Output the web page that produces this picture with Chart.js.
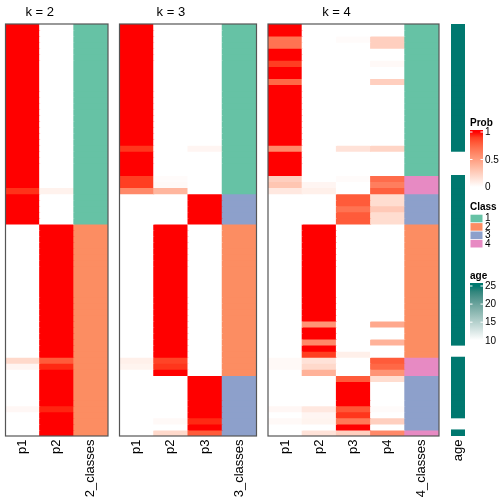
<!DOCTYPE html>
<html>
<head>
<meta charset="utf-8">
<script src="https://cdn.jsdelivr.net/npm/chart.js@4/dist/chart.umd.min.js"></script>
<style>
  html, body { margin: 0; padding: 0; background: #fff; }
  #wrap { position: relative; width: 504px; height: 504px; }
  #wrap canvas { position: absolute; left: 0; top: 0; }
</style>
</head>
<body>
<div id="wrap">
  <canvas id="k2" width="504" height="504"></canvas>
  <canvas id="k3" width="504" height="504"></canvas>
  <canvas id="k4" width="504" height="504"></canvas>
  <canvas id="age" width="504" height="504"></canvas>
</div>
<script>
// ===== data: one value per sample (row), top to bottom =====
const k2P1 = [1,1,1,1,1,1,1,1,1,1,1,1,1,1,1,1,1,
              1,1,1,1,1,1,1,1,1,1,0.93,1,1,1,1,1,0,
              0,0,0,0,0,0,0,0,0,0,0,0,0,0,0,0,0,
              0,0,0,0,0.2,0.05,0,0,0,0,0,0,0.04,0,0,0,0];
const k2P2 = [0,0,0,0,0,0,0,0,0,0,0,0,0,0,0,0,0,
              0,0,0,0,0,0,0,0,0,0,0.07,0,0,0,0,0,1,
              1,1,1,1,1,1,1,1,1,1,1,1,1,1,1,1,1,
              1,1,1,1,0.8,0.95,1,1,1,1,1,1,0.96,1,1,1,1];
const k2Class = [1,1,1,1,1,1,1,1,1,1,1,1,1,1,1,1,1,
                 1,1,1,1,1,1,1,1,1,1,1,1,1,1,1,1,2,
                 2,2,2,2,2,2,2,2,2,2,2,2,2,2,2,2,2,
                 2,2,2,2,2,2,2,2,2,2,2,2,2,2,2,2,2];

const k3P1 = [1,1,1,1,1,1,1,1,1,1,1,1,1,1,1,1,1,
              1,1,1,0.92,1,1,1,1,0.9,0.9,0.6,0,0,0,0,0,0,
              0,0,0,0,0,0,0,0,0,0,0,0,0,0,0,0,0,
              0,0,0,0,0.08,0.06,0,0,0,0,0,0,0,0,0,0,0];
const k3P2 = [0,0,0,0,0,0,0,0,0,0,0,0,0,0,0,0,0,
              0,0,0,0,0,0,0,0,0.02,0.03,0.38,0,0,0,0,0,1,
              1,1,1,1,1,1,1,1,1,1,1,1,1,1,1,1,1,
              1,1,1,1,0.88,0.92,1,0,0,0,0,0,0,0,0.03,0,0.2];
const k3P3 = [0,0,0,0,0,0,0,0,0,0,0,0,0,0,0,0,0,
              0,0,0,0.05,0,0,0,0,0,0,0,1,1,1,1,1,0,
              0,0,0,0,0,0,0,0,0,0,0,0,0,0,0,0,0,
              0,0,0,0,0,0,0,1,1,1,1,1,1,1,0.95,1,0.8];
const k3Class = [1,1,1,1,1,1,1,1,1,1,1,1,1,1,1,1,1,
                 1,1,1,1,1,1,1,1,1,1,1,3,3,3,3,3,2,
                 2,2,2,2,2,2,2,2,2,2,2,2,2,2,2,2,2,
                 2,2,2,2,2,2,2,3,3,3,3,3,3,3,3,3,3];

const k4P1 = [1,1,0.7,0.7,1,1,0.9,1,1,0.75,1,1,1,1,1,1,1,
              1,1,1,0.6,1,1,1,1,0.25,0.3,0.12,0,0,0,0,0,0,
              0,0,0,0,0,0,0,0,0,0,0,0,0,0,0,0,0,
              0,0,0,0,0.03,0.03,0,0,0,0,0,0,0.04,0,0.03,0,0];
const k4P2 = [0,0,0,0,0,0,0,0,0,0,0,0,0,0,0,0,0,
              0,0,0,0,0,0,0,0,0,0.05,0.08,0,0,0,0,0,1,
              1,1,1,1,1,1,1,1,1,1,1,1,1,1,1,0.55,1,
              1,0.6,1,0.9,0.15,0.2,0.4,0,0,0,0,0,0.12,0.05,0.06,0,0.15];
const k4P3 = [0,0,0.02,0,0,0,0,0,0,0,0,0,0,0,0,0,0,
              0,0,0,0.15,0,0,0,0,0.02,0,0,0.8,0.8,0.7,0.8,0.8,0,
              0,0,0,0,0,0,0,0,0,0,0,0,0,0,0,0,0,
              0,0,0,0.08,0,0,0,0.8,1,1,1,1,0.82,0.92,0.68,1,0.25];
const k4P4 = [0,0,0.25,0.25,0,0,0.03,0,0,0.25,0,0,0,0,0,0,0,
              0,0,0,0.22,0,0,0,0,0.73,0.65,0.78,0.18,0.18,0.28,0.18,0.18,0,
              0,0,0,0,0,0,0,0,0,0,0,0,0,0,0,0.45,0,
              0,0.4,0,0,0.8,0.75,0.55,0.18,0,0,0,0,0.02,0,0.25,0,0.6];
const k4Class = [1,1,1,1,1,1,1,1,1,1,1,1,1,1,1,1,1,
                 1,1,1,1,1,1,1,1,4,4,4,3,3,3,3,3,2,
                 2,2,2,2,2,2,2,2,2,2,2,2,2,2,2,2,2,
                 2,2,2,2,4,4,4,3,3,3,3,3,3,3,3,3,4];

const age = [25,25,25,25,25,25,25,25,25,25,25,25,25,25,25,25,25,
             25,25,25,25,null,null,null,null,25,25,25,25,25,25,25,25,25,
             25,25,25,25,25,25,25,25,25,25,25,25,25,25,25,25,25,
             25,25,null,null,25,25,25,25,25,25,25,25,25,25,null,null,25];

const classNames = ['1', '2', '3', '4'];
const classColors = ['#66C2A5', '#FC8D62', '#8DA0CB', '#E78AC3'];
const probTicks = [0, 0.5, 1];
const ageTicks = [10, 15, 20, 25];

// ===== colour ramps, interpolated in LAB like colorRamp2 =====
function hexToRgb(h) { return [1, 3, 5].map(i => parseInt(h.substr(i, 2), 16)); }
function rgbToLab(c) {
    const lin = v => { v /= 255; return v <= 0.04045 ? v / 12.92 : Math.pow((v + 0.055) / 1.055, 2.4); };
    const R = lin(c[0]), G = lin(c[1]), B = lin(c[2]);
    const X = (R * 0.4124 + G * 0.3576 + B * 0.1805) / 0.95047;
    const Y = R * 0.2126 + G * 0.7152 + B * 0.0722;
    const Z = (R * 0.0193 + G * 0.1192 + B * 0.9505) / 1.08883;
    const f = t => t > 0.008856 ? Math.cbrt(t) : 7.787 * t + 16 / 116;
    return [116 * f(Y) - 16, 500 * (f(X) - f(Y)), 200 * (f(Y) - f(Z))];
}
function labToCss(l) {
    const fy = (l[0] + 16) / 116, fx = fy + l[1] / 500, fz = fy - l[2] / 200;
    const fi = t => { const t3 = t * t * t; return t3 > 0.008856 ? t3 : (t - 16 / 116) / 7.787; };
    const X = fi(fx) * 0.95047, Y = fi(fy), Z = fi(fz) * 1.08883;
    const g = v => {
        v = Math.min(1, Math.max(0, v));
        return Math.round(255 * (v <= 0.0031308 ? 12.92 * v : 1.055 * Math.pow(v, 1 / 2.4) - 0.055));
    };
    return 'rgb(' + g(3.2406 * X - 1.5372 * Y - 0.4986 * Z) + ',' +
        g(-0.9689 * X + 1.8758 * Y + 0.0415 * Z) + ',' +
        g(0.0557 * X - 0.2040 * Y + 1.0570 * Z) + ')';
}
function ramp(lo, hi, c0, c1) {
    const a = rgbToLab(hexToRgb(c0)), b = rgbToLab(hexToRgb(c1));
    return v => {
        if (v == null) return 'rgba(0,0,0,0)';
        const t = Math.min(1, Math.max(0, (v - lo) / (hi - lo)));
        return labToCss(a.map((x, i) => x + (b[i] - x) * t));
    };
}
const probColor = ramp(0, 1, '#FFFFFF', '#FF0000');
const ageColor = ramp(10, 25, '#FFFFFF', '#00786F');
const classColor = v => classColors[v - 1];

const FONT = '"Liberation Sans", Arial, Helvetica, sans-serif';

// ===== legend on the right =====
function drawLegend(ctx) {
    ctx.fillStyle = '#000';
    ctx.textAlign = 'left';

    // Prob
    ctx.font = 'bold 10px ' + FONT;
    ctx.textBaseline = 'alphabetic';
    ctx.fillText('Prob', 470, 125.5);
    const p0 = 187, p1 = 132;
    let g = ctx.createLinearGradient(0, p0, 0, p1);
    for (let i = 0; i <= 10; i++) g.addColorStop(i / 10, probColor(i / 10));
    ctx.fillStyle = g;
    ctx.fillRect(470, 130, 13, 58);
    ctx.font = '10px ' + FONT;
    ctx.textBaseline = 'middle';
    probTicks.forEach(v => {
        const y = p0 + (p1 - p0) * v;
        ctx.strokeStyle = '#fff'; ctx.lineWidth = 1;
        ctx.beginPath();
        ctx.moveTo(470, y); ctx.lineTo(472.5, y);
        ctx.moveTo(480.5, y); ctx.lineTo(483, y);
        ctx.stroke();
        ctx.fillStyle = '#000';
        ctx.fillText(String(v), 485, y + 0.5);
    });

    // Class
    ctx.font = 'bold 10px ' + FONT;
    ctx.textBaseline = 'alphabetic';
    ctx.fillText('Class', 470, 209.5);
    ctx.font = '10px ' + FONT;
    ctx.textBaseline = 'middle';
    classNames.forEach((name, i) => {
        const y = 214.3 + i * 8.4;
        ctx.fillStyle = classColors[i];
        ctx.fillRect(470.5, y + 0.4, 12, 7.6);
        ctx.fillStyle = '#000';
        ctx.fillText(name, 485, y + 4.4);
    });

    // age
    ctx.font = 'bold 10px ' + FONT;
    ctx.textBaseline = 'alphabetic';
    ctx.fillText('age', 470, 278.5);
    const a0 = 340.3, a1 = 286;
    g = ctx.createLinearGradient(0, a0, 0, a1);
    for (let i = 0; i <= 10; i++) g.addColorStop(i / 10, ageColor(10 + 1.5 * i));
    ctx.fillStyle = g;
    ctx.fillRect(470, 283, 13, 59);
    ctx.font = '10px ' + FONT;
    ctx.textBaseline = 'middle';
    ageTicks.forEach(v => {
        const y = a0 + (a1 - a0) * (v - 10) / 15;
        ctx.strokeStyle = '#fff'; ctx.lineWidth = 1;
        ctx.beginPath();
        ctx.moveTo(470, y); ctx.lineTo(472.5, y);
        ctx.moveTo(480.5, y); ctx.lineTo(483, y);
        ctx.stroke();
        ctx.fillStyle = '#000';
        ctx.fillText(String(v), 485, y + 0.5);
    });
}

// ===== title, border and column labels for each panel =====
const panelDeco = {
    id: 'panelDeco',
    afterDatasetsDraw(chart, args, opts) {
        const ctx = chart.ctx, a = chart.chartArea, x = chart.scales.x;
        const labels = chart.data.labels;
        const colW = (a.right - a.left) / labels.length;
        ctx.save();
        if (opts.border) {
            ctx.strokeStyle = '#555';
            ctx.lineWidth = 1.2;
            ctx.strokeRect(a.left, a.top, a.right - a.left, a.bottom - a.top);
        }
        ctx.fillStyle = '#000';
        if (opts.title) {
            ctx.font = '13px ' + FONT;
            ctx.textAlign = 'center';
            ctx.textBaseline = 'alphabetic';
            const right = x.getPixelForValue(opts.nProb - 1) + colW / 2;
            ctx.fillText(opts.title, (a.left + right) / 2, 15.5);
        }
        ctx.font = '13px ' + FONT;
        ctx.textAlign = 'right';
        ctx.textBaseline = 'middle';
        labels.forEach((lab, i) => {
            ctx.save();
            ctx.translate(x.getPixelForValue(i), a.bottom + 3.5);
            ctx.rotate(-Math.PI / 2);
            ctx.fillText(lab, 0, 0);
            ctx.restore();
        });
        if (opts.legend) drawLegend(ctx);
        ctx.restore();
    }
};

function panel(id, cols, fills, labels, box, deco) {
    const n = cols[0].length;
    const datasets = [];
    for (let r = 0; r < n; r++) {
        datasets.push({
            data: cols.map(c => c[r] == null ? null : [r, r + 1]),
            backgroundColor: cols.map((c, j) => fills[j](c[r])),
            borderWidth: 0,
            inflateAmount: 0.5,
            barPercentage: 1,
            categoryPercentage: 1,
            grouped: false
        });
    }
    return new Chart(document.getElementById(id), {
        type: 'bar',
        data: { labels: labels, datasets: datasets },
        options: {
            responsive: false,
            animation: false,
            events: [],
            layout: { padding: { left: box[0], top: box[1], right: 504 - box[2], bottom: 504 - box[3] } },
            scales: {
                x: { display: false, offset: true },
                y: { display: false, min: 0, max: n, reverse: true }
            },
            plugins: {
                legend: { display: false },
                tooltip: { enabled: false },
                panelDeco: deco
            }
        },
        plugins: [panelDeco]
    });
}

const P = probColor, C = classColor;
panel('k2', [k2P1, k2P2, k2Class], [P, P, C], ['p1', 'p2', '2_classes'],
      [5.5, 24, 108, 436], { title: 'k = 2', nProb: 2, border: true });
panel('k3', [k3P1, k3P2, k3P3, k3Class], [P, P, P, C], ['p1', 'p2', 'p3', '3_classes'],
      [119.5, 24, 256.5, 436], { title: 'k = 3', nProb: 3, border: true });
panel('k4', [k4P1, k4P2, k4P3, k4P4, k4Class], [P, P, P, P, C], ['p1', 'p2', 'p3', 'p4', '4_classes'],
      [268, 24, 439, 436], { title: 'k = 4', nProb: 4, border: true });
panel('age', [age], [ageColor], ['age'],
      [451, 24, 465, 436], { legend: true });
</script>
</body>
</html>
